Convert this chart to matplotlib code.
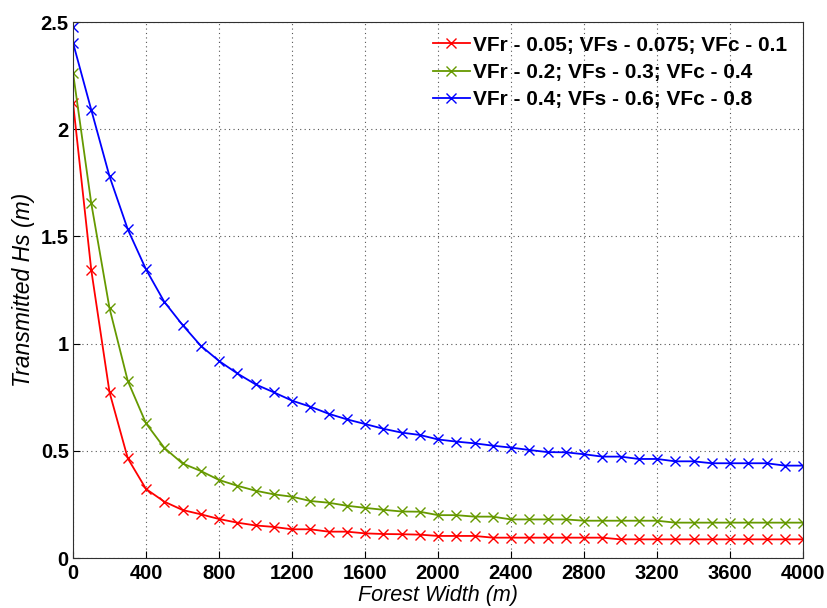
import matplotlib.pyplot as plt

# Forest width (m)
x = list(range(0, 4001, 100))
x_blue = [0, 1] + list(range(100, 4001, 100))

# Transmitted Hs (m)
hs_red = [2.124, 1.343, 0.773, 0.465, 0.322, 0.263, 0.224, 0.204, 0.182, 0.165,
          0.152, 0.145, 0.134, 0.134, 0.123, 0.123, 0.115, 0.112, 0.111, 0.109,
          0.103, 0.103, 0.103, 0.095, 0.095, 0.095, 0.095, 0.095, 0.095, 0.095,
          0.087, 0.087, 0.087, 0.087, 0.087, 0.087, 0.087, 0.087, 0.087, 0.087,
          0.087]
hs_green = [2.264, 1.654, 1.165, 0.826, 0.628, 0.514, 0.441, 0.406, 0.364, 0.337,
            0.314, 0.297, 0.286, 0.266, 0.258, 0.244, 0.234, 0.225, 0.217, 0.216,
            0.200, 0.200, 0.193, 0.193, 0.180, 0.180, 0.180, 0.180, 0.174, 0.174,
            0.174, 0.174, 0.174, 0.165, 0.165, 0.165, 0.165, 0.165, 0.165, 0.165,
            0.165]
hs_blue = [2.475, 2.400, 2.090, 1.780, 1.533, 1.346, 1.195, 1.087, 0.990, 0.919,
           0.861, 0.810, 0.773, 0.734, 0.706, 0.673, 0.647, 0.625, 0.603, 0.585,
           0.574, 0.553, 0.543, 0.535, 0.524, 0.515, 0.504, 0.494, 0.493, 0.484,
           0.473, 0.473, 0.462, 0.462, 0.451, 0.451, 0.442, 0.442, 0.442, 0.442,
           0.431, 0.431]

labels = ["VFr - 0.05; VFs - 0.075; VFc - 0.1",
          "VFr - 0.2; VFs - 0.3; VFc - 0.4",
          "VFr - 0.4; VFs - 0.6; VFc - 0.8"]

plt.rcParams['font.family'] = ['Liberation Sans', 'DejaVu Sans']

fig = plt.figure(figsize=(8.27, 6.08), dpi=100)
ax = fig.add_axes([0.0883, 0.0822, 0.8827, 0.8816])

ax.plot(x, hs_red, color='#ff0000', marker='x', markersize=7, linewidth=1.3, label=labels[0])
ax.plot(x, hs_green, color='#669900', marker='x', markersize=7, linewidth=1.3, label=labels[1])
ax.plot(x_blue, hs_blue, color='#0000ff', marker='x', markersize=7, linewidth=1.3, label=labels[2])

ax.set_xlim(0, 4000)
ax.set_ylim(0, 2.5)
ax.set_xticks(range(0, 4001, 400))
ax.set_yticks([0, 0.5, 1, 1.5, 2, 2.5])
ax.set_yticklabels(['0', '0.5', '1', '1.5', '2', '2.5'])
ax.grid(True, linestyle=(0, (1, 3)), color='#555555', linewidth=0.8)
ax.tick_params(direction='in', length=5, labelsize=14.5)
ax.tick_params(axis='x', pad=4)
ax.tick_params(axis='y', pad=3)
for lab in ax.get_xticklabels() + ax.get_yticklabels():
    lab.set_fontweight('bold')
for sp in ax.spines.values():
    sp.set_color('#303030')

ax.set_xlabel("Forest Width (m)", fontsize=15.5, style='italic', labelpad=2)
ax.set_ylabel("Transmitted Hs (m)", fontsize=16.5, style='italic', labelpad=4)

leg = ax.legend(loc='upper right', frameon=False, prop={'size': 15, 'weight': 'bold'},
                handlelength=1.8, handletextpad=0.15, labelspacing=0.4,
                borderaxespad=0.0, bbox_to_anchor=(0.99, 0.99))

plt.savefig("out.png", dpi=100)
